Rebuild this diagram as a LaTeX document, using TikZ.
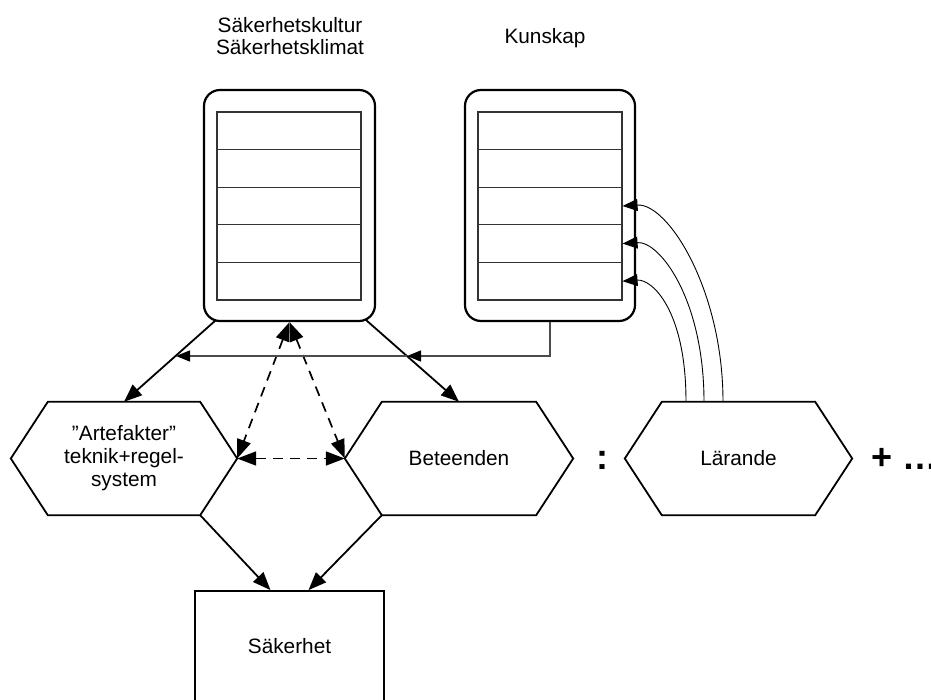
\documentclass[tikz,border=0pt]{standalone}
\usepackage{fontspec}
\setmainfont{Liberation Sans}
\usetikzlibrary{arrows.meta,calc}
\begin{document}
\begin{tikzpicture}[x=1pt,y=-1pt,
  every node/.style={font=\fontsize{20.8}{22}\selectfont, inner sep=0pt},
  outerbox/.style={draw, line width=2.2pt, rounded corners=16pt, minimum width=171pt, minimum height=231pt},
  rowbox/.style={draw=black!80, line width=1.1pt, minimum width=144pt, minimum height=37.6pt},
  hexbox/.style={minimum width=227pt, minimum height=113pt, align=center},
  hexline/.style={draw, line width=1.8pt, line join=miter},
  sakbox/.style={draw, line width=1.8pt, minimum width=189pt, minimum height=111pt},
  bigtip/.style={Triangle[length=18pt,width=14pt]},
  arr/.style={line width=1.8pt, -{Triangle[length=18pt,width=14pt]}},
  darr/.style={line width=1.7pt, dash pattern=on 10pt off 7pt, {Triangle[length=19pt,width=14pt]}-{Triangle[length=19pt,width=14pt]}},
  thinarr/.style={line width=0.9pt, -{Triangle[length=15pt,width=12pt]}},
  karr/.style={line width=1.4pt, draw=black!70, -{Triangle[length=14pt,width=11pt,color=black]}},
  bigbold/.style={font=\fontsize{36}{36}\bfseries\selectfont},
]
\useasboundingbox (0,0) rectangle (931,699);
\clip (0,0) rectangle (931,699);

% labels
\node[align=center] (cultlbl) at (290,36.5) {Säkerhetskultur\\Säkerhetsklimat};
\node (kunlbl) at (545,38) {Kunskap};

% culture box
\node[outerbox] (cult) at (289.5,205.5) {};
\foreach \i/\y in {1/130.8,2/168.4,3/206,4/243.6,5/281.2}
  \node[rowbox] (c\i) at (289,\y) {};

% knowledge box
\node[outerbox, minimum width=170pt] (kun) at (550,205.5) {};
\foreach \i/\y in {1/130.8,2/168.4,3/206,4/243.6,5/281.2}
  \node[rowbox] (k\i) at (550,\y) {};

% hexagons
\node[hexbox, minimum width=226pt, font=\fontsize{20.8}{23}\selectfont] (art) at (124,458.5) {”Artefakter”\\teknik+regel-\\system};
\node[hexbox, minimum width=228pt] (bet) at (459,458.5) {Beteenden};
\node[hexbox] (lar) at (738.5,458.5) {Lärande};
\foreach \h in {art,bet,lar}
  \draw[hexline] (\h.west) -- ($(\h.north west)+(37,0)$) -- ($(\h.north east)+(-37,0)$)
    -- (\h.east) -- ($(\h.south east)+(-37,0)$) -- ($(\h.south west)+(37,0)$) -- cycle;

% safety box
\node[sakbox] (sak) at (289.5,646.5) {Säkerhet};

% separators
\node[bigbold] (colon) at (602,460.5) {:};
\node[bigbold, anchor=base west] (plus) at (871,469) {+ …};

% main arrows
\draw[arr] ($(cult.south west)+(13,-2)$) -- (art.north);
\draw[arr] ($(cult.south east)+(-10,-2)$) -- (bet.north);
\draw[darr] (cult.south) -- (art.east);
\draw[darr] (cult.south) -- (bet.west);
\draw[darr] (art.east) -- (bet.west);
\draw[arr] ($(art.south east)+(-37,0)$) -- ($(sak.north)+(-19,0)$);
\draw[arr] ($(bet.south west)+(37,0)$) -- ($(sak.north)+(19,0)$);

% knowledge connector
\coordinate (xR) at (407,356);
\coordinate (xL) at (176,356);
\draw[karr] (kun.south) |- (xR);
\draw[karr] (xR) -- (xL);

% learning curves
\draw[thinarr] ($(lar.north)+(-52.5,0)$) .. controls (686,310) and (652,279) .. (k5.east);
\draw[thinarr] ($(lar.north)+(-34.5,0)$) .. controls (704,300) and (660,241) .. (k4.east);
\draw[thinarr] ($(lar.north)+(-15.5,0)$) .. controls (723,290) and (668,203) .. (k3.east);
\end{tikzpicture}
\end{document}
